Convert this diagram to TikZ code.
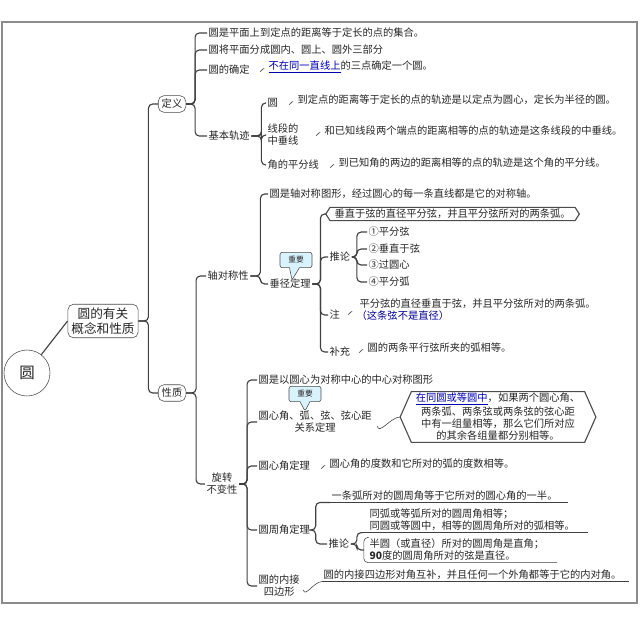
\documentclass[tikz,border=0pt]{standalone}
\usepackage{fontspec}
\newfontfamily\cjk{Noto Sans CJK SC}
\usetikzlibrary{shapes.callouts,positioning}
\tikzset{
  every node/.style={font=\cjk\fontsize{7.3}{8.6}\selectfont,text=black!85,inner sep=1pt},
  txt/.style={anchor=west,align=left},
  cbox/.style={draw=black!70,rounded corners=4pt,inner sep=2.5pt,align=center},
  link/.style={draw=black!75,thick,rounded corners=3pt},
  note/.style={rectangle callout,draw=black!70,fill=cyan!15,rounded corners=1.5pt,
    font=\cjk\fontsize{5.5}{6}\selectfont,inner sep=2pt,minimum width=0.8cm,minimum height=0.38cm}
}
\newcommand{\hook}[1]{\draw[link,thin] ([shift={(-7,4)}]#1.west) to[out=-80,in=180] ([xshift=-2,yshift=-1]#1.west);}
\newcommand{\hexa}[2]{\draw[black!70,thick] (#1.north west) -- (#1.north east) -- ([xshift=#2]#1.east) -- (#1.south east) -- (#1.south west) -- ([xshift=-#2]#1.west) -- cycle;}
\begin{document}
\begin{tikzpicture}[x=0.025cm,y=-0.025cm]
\useasboundingbox (0,0) rectangle (640,626);
\draw[black!45,thick] (2,22) rectangle (637,603);

% root and first level
\node [circle,draw=black!70,minimum size=1.15cm,font=\cjk\fontsize{11}{12}\selectfont] at (27,373) (root) {圆};
\node [cbox,font=\cjk\fontsize{9}{10.5}\selectfont] at (103,321) (main) {圆的有关\\概念和性质};
\draw [link] (root) -- (main.west);

\node [cbox] at (172,104) (defn) {定义};
\node [cbox] at (172,393) (prop) {性质};
\draw [link] (main.east) -- ++(10,0) |- (defn.west);
\draw [link] (main.east) -- ++(10,0) |- (prop.west);

% definition
\node [txt] at (207,33) (d1) {圆是平面上到定点的距离等于定长的点的集合。};
\node [txt] at (207,50) (d2) {圆将平面分成圆内、圆上、圆外三部分};
\node [txt] at (207,70) (d3) {圆的确定};
\node [txt] at (207,136) (d4) {基本轨迹};
\foreach \c in {d1,d2,d3,d4}
  \draw [link] (defn.east) -- ++(9,0) |- (\c.west);
\node [txt] at (267,67) (d3a) {\textcolor{blue!70!black}{\underline{不在同一直线上}}的三点确定一个圆。};
\hook{d3a}

\node [txt] at (266,103) (t1) {圆};
\node [txt] at (266,135) (t2) {线段的\\中垂线};
\node [txt] at (266,165) (t3) {角的平分线};
\foreach \c in {t1,t2,t3}
  \draw [link] (d4.east) -- ++(10,0) |- (\c.west);
\node [txt] at (296,100) (t1a) {到定点的距离等于定长的点的轨迹是以定点为圆心，定长为半径的圆。};
\node [txt] at (323,131) (t2a) {和已知线段两个端点的距离相等的点的轨迹是这条线段的中垂线。};
\node [txt] at (337,163) (t3a) {到已知角的两边的距离相等的点的轨迹是这个角的平分线。};
\foreach \c in {t1a,t2a,t3a} {\hook{\c}}

% properties
\node [txt] at (206,276) (p1) {轴对称性};
\node [align=center] at (222,484) (p2) {旋转\\不变性};
\draw [link] (prop.east) -- ++(10,0) |- (p1.west);
\draw [link] (prop.east) -- ++(10,0) |- (p2.west);

% axial symmetry
\node [txt] at (268,194) (a1) {圆是轴对称图形，经过圆心的每一条直线都是它的对称轴。};
\node [txt] at (268,284) (a2) {垂径定理};
\foreach \c in {a1,a2}
  \draw [link] (p1.east) -- ++(10,0) |- (\c.west);
\node [note,callout absolute pointer={(292,280)}] at (296,260) (imp1) {重要};

\node [txt,inner xsep=3pt] at (330,214) (v1) {垂直于弦的直径平分弦，并且平分弦所对的两条弧。};
\hexa{v1}{3}
\node [txt] at (328,257) (v2) {推论};
\node [txt] at (328,315) (v3) {注};
\node [txt] at (328,352) (v4) {补充};
\draw [link] (a2.east) -- ++(8,0) |- ([xshift=-3]v1.west);
\foreach \c in {v2,v3,v4}
  \draw [link] (a2.east) -- ++(8,0) |- (\c.west);

\node [txt] at (367,232) (c1) {①平分弦};
\node [txt] at (367,249) (c2) {②垂直于弦};
\node [txt] at (367,265) (c3) {③过圆心};
\node [txt] at (367,282) (c4) {④平分弧};
\foreach \c in {c1,c2,c3,c4}
  \draw [link] (v2.east) -- ++(5,0) |- (\c.west);
\node [txt] at (355,310) (n1) {\hspace*{2pt}平分弦的直径垂直于弦，并且平分弦所对的两条弧。\\\textcolor{blue!60!black}{（这条弦不是直径）}};
\hook{n1}
\node [txt] at (366,348) (s1) {圆的两条平行弦所夹的弧相等。};
\hook{s1}

% rotational invariance
\node [txt] at (257,380) (r1) {圆是以圆心为对称中心的中心对称图形};
\node [txt,align=center] at (257,422) (r2) {圆心角、弧、弦、弦心距\\关系定理};
\node [txt] at (257,466) (r3) {圆心角定理};
\node [txt] at (257,530) (r4) {圆周角定理};
\node [txt,align=center] at (257,586) (r5) {圆的内接\\四边形};
\foreach \c in {r1,r2,r3,r4,r5}
  \draw [link] (p2.east) -- ++(8,0) |- (\c.west);
\node [note,callout absolute pointer={(305,411)}] at (305,394) (imp2) {重要};

\node [align=center,inner xsep=3pt] at (498,417) (r2a) {\textcolor{blue!70!black}{\underline{在同圆或等圆中}}，如果两个圆心角、\\两条弧、两条弦或两条弦的弦心距\\中有一组量相等，那么它们所对应\\的其余各组量都分别相等。};
\hexa{r2a}{8}
\draw [link,thin] ([shift={(4,4)}]r2.east) to[out=-80,in=180] ([xshift=-8]r2a.west);
\node [txt] at (328,464) (r3a) {圆心角的度数和它所对的弧的度数相等。};
\hook{r3a}

\node [txt] at (330,496) (g1) {一条弧所对的圆周角等于它所对的圆心角的一半。};
\node [txt] at (327,544) (g2) {推论};
\draw [black!75,thin] (g1.south west) -- ([xshift=6]g1.south east);
\draw [link] (r4.east) -- ++(4,0) |- (g1.south west);
\draw [link] (r4.east) -- ++(4,0) |- (g2.west);
\node [txt] at (368,520) (g3) {同弧或等弧所对的圆周角相等；\\同圆或等圆中，相等的圆周角所对的弧相等。};
\node [txt] at (368,550) (g4) {半圆（或直径）所对的圆周角是直角；\\\textbf{90}度的圆周角所对的弦是直径。};
\draw [black!75,thin] ([xshift=-3]g3.south west) -- ([xshift=8]g3.south east);
\draw [link,thin] ([xshift=8]g4.south east) -- ([xshift=-3]g4.south west) -- ([xshift=-3]g4.north west) -- ++(5,0);
\draw [link] (g2.east) -- ++(6,0) |- ([xshift=-3]g3.south west);
\draw [link] (g2.east) -- ++(6,0) |- ([xshift=-3]g4.west);

\node [txt] at (322,575) (q1) {圆的内接四边形对角互补，并且任何一个外角都等于它的内对角。};
\draw [black!75,thin] (q1.south west) -- ([xshift=4]q1.south east);
\draw [link,thin] ([shift={(2,4)}]r5.east) to[out=-80,in=180] (q1.south west);
\end{tikzpicture}
\end{document}
